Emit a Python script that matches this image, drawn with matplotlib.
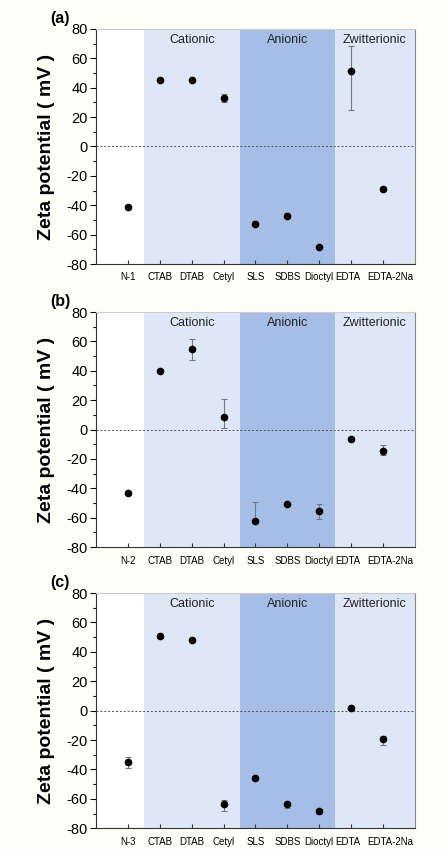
import numpy as np
import matplotlib.pyplot as plt
from matplotlib.ticker import MultipleLocator

plt.rcParams["font.family"] = ["Liberation Sans", "DejaVu Sans"]
plt.rcParams["axes.unicode_minus"] = False

groups = ["Cationic", "Anionic", "Zwitterionic"]
surfactants = ["CTAB", "DTAB", "Cetyl", "SLS", "SDBS", "Dioctyl", "EDTA", "EDTA-2Na"]
panels = ["(a)", "(b)", "(c)"]
ref_names = ["N-1", "N-2", "N-3"]

# zeta potential values (mV), ref sample first
zeta_a = [-41, 45.5, 45.2, 33, -52.5, -47, -68.6, 51.6, -29.1]
zeta_b = [-43.2, 39.8, 54.6, 8.9, -62.2, -50.5, -55.5, -6.6, -14.6]
zeta_c = [-35, 50.6, 48.3, -63.4, -46, -63.4, -68.4, 1.8, -19.5]

# error bars (lower, upper)
err_a_lo = [0.8, 0.8, 0.8, 3, 1.5, 1.5, 0.8, 26.6, 0.8]
err_a_hi = [0.8, 0.8, 0.8, 3, 1.5, 1.5, 0.8, 16.6, 0.8]
err_b_lo = [0.5, 0.8, 7.3, 7.5, 1.3, 0.8, 5.5, 1.5, 2.5]
err_b_hi = [0.5, 0.8, 7.1, 11.7, 12.8, 0.8, 5.0, 1.5, 4.3]
err_c_lo = [4.1, 1.0, 0.8, 4.8, 0.8, 2.6, 2.1, 1.5, 3.8]
err_c_hi = [3.2, 1.0, 0.8, 2.8, 0.8, 1.0, 1.0, 1.5, 2.3]

zetas = [zeta_a, zeta_b, zeta_c]
errs = [(err_a_lo, err_a_hi), (err_b_lo, err_b_hi), (err_c_lo, err_c_hi)]

bg = "#fffff8"
light = "#dde7f6"
dark = "#a6bee6"

fig = plt.figure(figsize=(4.47, 8.49), dpi=100, facecolor=bg)
tops = [0.966, 0.6325, 0.3015]
h = 0.277

x = np.arange(1, 10)
for i in range(3):
    ax = fig.add_axes([0.215, tops[i] - h, 0.713, h])
    ax.set_facecolor("white")
    ax.axvspan(1.5, 4.5, color=light, lw=0, zorder=0)
    ax.axvspan(4.5, 7.5, color=dark, lw=0, zorder=0)
    ax.axvspan(7.5, 10, color=light, lw=0, zorder=0)
    for gx, g in zip([3, 6, 8.75], groups):
        ax.text(gx, 72.5, g, ha="center", va="center", fontsize=9, color="#222222")
    ax.axhline(0, color="#555555", lw=0.7, ls=(0, (2, 2)), zorder=1)
    ax.errorbar(x, zetas[i], yerr=[errs[i][0], errs[i][1]], fmt="o", color="black",
                ms=4.5, ecolor="#777777", elinewidth=0.8, capsize=2.5, capthick=0.8, zorder=3)
    ax.set_xlim(0, 10)
    ax.set_ylim(-80, 80)
    ax.set_xticks(x)
    names = [ref_names[i]] + surfactants
    # last two labels are drawn by hand, nudged apart like the original
    ax.set_xticklabels(names[:-2] + ["", ""], fontsize=7)
    for xi, lab, dx in [(x[-2], names[-2], -2), (x[-1], names[-1], 5)]:
        ax.annotate(lab, xy=(xi, 0), xycoords=ax.get_xaxis_transform(),
                    xytext=(dx, -6), textcoords="offset points",
                    ha="center", va="top", fontsize=7)
    ax.tick_params(axis="x", direction="in", length=3, width=0.8, pad=6, color="#333333")
    ax.yaxis.set_major_locator(MultipleLocator(20))
    ax.yaxis.set_minor_locator(MultipleLocator(10))
    ax.tick_params(axis="y", which="major", direction="out", length=4, width=0.8,
                   labelsize=10.5, pad=2)
    ax.tick_params(axis="y", which="minor", direction="out", length=2.5, width=0.8)
    for s in ["left", "bottom"]:
        ax.spines[s].set_color("#333333")
    ax.spines["right"].set_color("#888888")
    ax.spines["top"].set_color("#cccccc")
    ax.set_ylabel("Zeta potential ( mV )", fontsize=14, fontweight="bold", labelpad=8)
    ax.text(-0.145, 1.045, panels[i], transform=ax.transAxes, fontsize=11.5,
            fontweight="bold", ha="left", va="center")

fig.savefig("out.png", dpi=100, facecolor=bg)
